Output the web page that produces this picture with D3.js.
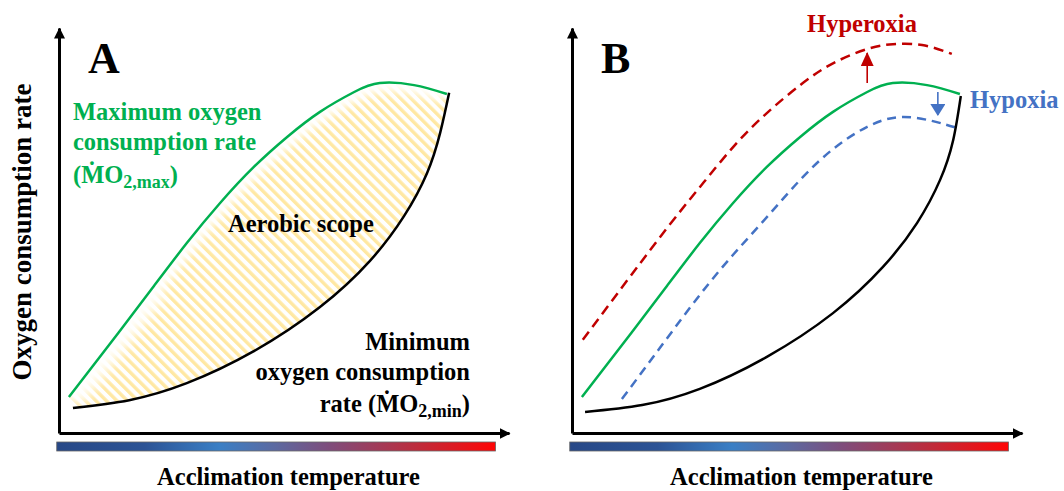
<!DOCTYPE html>
<html>
<head>
<meta charset="utf-8">
<script src="https://cdn.jsdelivr.net/npm/d3@7"></script>
<style>
body { margin: 0; background: #fff; }
text { font-family: "Liberation Serif", "Times New Roman", serif; font-weight: bold; }
</style>
</head>
<body>
<svg id="canvas" width="1064" height="491"></svg>
<script>
// acclimation temperature (0-100) vs oxygen consumption rate (0-100)
var maxTemp = [2.2, 13.3, 21.1, 28.4, 35.8, 43.3, 50.7, 58.0, 65.6, 71.3, 78.9, 86.2];
var maxRate = [8.9, 24.9, 36.3, 46.9, 56.8, 65.7, 73.1, 79.3, 84.2, 86.4, 85.9, 83.7];
var minTempA = [3.1, 15.6, 28.4, 43.3, 58.0, 69.1, 76.7, 81.8, 84.7, 86.7];
var minRateA = [6.2, 8.1, 12.3, 20.2, 31.1, 42.5, 53.6, 64.2, 74.1, 84.0];
var minTempB = [2.9, 15.6, 28.4, 43.3, 58.0, 69.1, 76.7, 81.8, 84.7, 86.4];
var minRateB = [5.2, 6.9, 10.9, 18.8, 29.6, 41.0, 51.9, 62.5, 72.3, 83.2];
var hyperTemp = [2.4, 19.1, 28.4, 35.8, 43.3, 51.3, 58.2, 65.6, 71.3, 77.8, 84.4];
var hyperRate = [23.0, 47.7, 60.7, 70.6, 79.0, 86.4, 91.4, 94.8, 96.0, 95.8, 93.6];
var hypoTemp = [11.1, 20.0, 28.4, 35.8, 43.3, 50.7, 58.0, 65.6, 72.9, 80.2, 85.6];
var hypoRate = [8.4, 21.7, 34.1, 44.0, 53.3, 62.5, 70.1, 75.6, 78.0, 77.0, 75.3];
// shift arrows: [temperature, from rate, to rate]
var hyperShift = [65.6, 86.4, 93.8];
var hypoShift = [81.3, 84.2, 78.5];
var panels = ["A", "B"];
var xTitle = "Acclimation temperature";
var yTitle = "Oxygen consumption rate";

var svg = d3.select("#canvas");
var green = "#00b050", red = "#c00000", blue = "#4472c4";

function pts(xs, ys) { return xs.map(function(v, i) { return [v, ys[i]]; }); }

var defs = svg.append("defs");

var grad = defs.append("linearGradient").attr("id", "temp");
[[0, "#274887"], [0.2, "#2c5395"], [0.37, "#3a7fc5"], [0.5, "#5d69a0"], [0.62, "#7e4d7c"], [0.82, "#bd2c3c"], [1, "#ff0505"]]
  .forEach(function(s) { grad.append("stop").attr("offset", s[0]).attr("stop-color", s[1]); });

var hatch = defs.append("pattern").attr("id", "hatch")
  .attr("patternUnits", "userSpaceOnUse").attr("width", 7.4).attr("height", 7.4)
  .attr("patternTransform", "rotate(-45)");
hatch.append("rect").attr("width", 3.4).attr("height", 7.4).attr("fill", "#ffd966").attr("opacity", 0.6);

defs.append("filter").attr("id", "soft").append("feGaussianBlur").attr("stdDeviation", 0.7);
defs.append("filter").attr("id", "halo").attr("x", "-20%").attr("y", "-20%").attr("width", "140%").attr("height", "140%")
  .append("feGaussianBlur").attr("stdDeviation", 5);

function marker(id, color, len, wid) {
  defs.append("marker").attr("id", id)
    .attr("markerUnits", "userSpaceOnUse")
    .attr("viewBox", [0, -wid / 2, len, wid].join(" "))
    .attr("markerWidth", len).attr("markerHeight", wid)
    .attr("refX", len - 1).attr("refY", 0).attr("orient", "auto")
    .append("path").attr("d", "M0," + (-wid / 2) + "L" + len + ",0L0," + (wid / 2) + "Z").attr("fill", color);
}
marker("axisArrow", "#000", 11, 11);
marker("redArrow", red, 14, 13);
marker("blueArrow", blue, 12, 15);

var origins = [59, 572];

panels.forEach(function(p, k) {
  var g = svg.append("g").attr("transform", "translate(" + origins[k] + ",0)");
  var x = d3.scaleLinear().domain([0, 100]).range([0, 450]);
  var y = d3.scaleLinear().domain([0, 100]).range([433, 28]);
  var line = d3.line().x(function(d) { return x(d[0]); }).y(function(d) { return y(d[1]); })
    .curve(d3.curveNatural);

  var maxPts = pts(maxTemp, maxRate);
  var minPts = p === "A" ? pts(minTempA, minRateA) : pts(minTempB, minRateB);

  if (p === "A") {
    var area = line(maxPts) + line(minPts.slice().reverse()).replace(/^M/, "L") + "Z";
    defs.append("clipPath").attr("id", "scope").append("path").attr("d", area);
    var sc = g.append("g").attr("clip-path", "url(#scope)");
    sc.append("path").attr("d", area).attr("fill", "url(#hatch)").attr("filter", "url(#soft)");
    sc.append("path").attr("d", line(maxPts)).attr("fill", "none")
      .attr("stroke", "#fff").attr("stroke-width", 18).attr("filter", "url(#halo)");
    sc.append("path").attr("d", line(maxPts.slice(0, 3))).attr("fill", "none")
      .attr("stroke", "#fff").attr("stroke-width", 34).attr("opacity", 0.6).attr("filter", "url(#halo)");
  }

  // colour bar under the x axis
  g.append("rect").attr("x", x(-0.5)).attr("y", 442).attr("width", x(97) - x(-0.5)).attr("height", 9)
    .attr("fill", "url(#temp)").attr("stroke", "#666").attr("stroke-width", 0.8);

  // axes
  var ax = g.append("g").attr("transform", "translate(0,433)").call(d3.axisBottom(x).ticks(0).tickSizeOuter(0));
  var ay = g.append("g").call(d3.axisLeft(y).ticks(0).tickSizeOuter(0));
  [ax, ay].forEach(function(a) {
    a.select(".domain").attr("stroke", "#000").attr("stroke-width", 3)
      .attr("marker-end", "url(#axisArrow)");
  });

  if (p === "B") {
    g.append("path").attr("d", line(pts(hyperTemp, hyperRate))).attr("fill", "none")
      .attr("stroke", red).attr("stroke-width", 2.5).attr("stroke-dasharray", "10,6");
    g.append("path").attr("d", line(pts(hypoTemp, hypoRate))).attr("fill", "none")
      .attr("stroke", blue).attr("stroke-width", 2.5).attr("stroke-dasharray", "9,6");
    g.append("line").attr("x1", x(hyperShift[0])).attr("x2", x(hyperShift[0]))
      .attr("y1", y(hyperShift[1])).attr("y2", y(hyperShift[2]))
      .attr("stroke", red).attr("stroke-width", 1.6).attr("marker-end", "url(#redArrow)");
    g.append("line").attr("x1", x(hypoShift[0])).attr("x2", x(hypoShift[0]))
      .attr("y1", y(hypoShift[1])).attr("y2", y(hypoShift[2]))
      .attr("stroke", blue).attr("stroke-width", 1.6).attr("marker-end", "url(#blueArrow)");
  }

  g.append("path").attr("d", line(minPts)).attr("fill", "none").attr("stroke", "#000").attr("stroke-width", 2.5);
  g.append("path").attr("d", line(maxPts)).attr("fill", "none").attr("stroke", green).attr("stroke-width", 2.5);

  g.append("text").attr("x", 29).attr("y", 73).attr("font-size", "44px").text(p);
  g.append("text").attr("x", x(51)).attr("y", 485).attr("text-anchor", "middle")
    .attr("font-size", "24.5px").text(xTitle);
});

function mo2(t, sub) {
  t.append("tspan").text("(ṀO");
  t.append("tspan").attr("dy", 5).attr("font-size", "18px").text("2," + sub);
  t.append("tspan").attr("dy", -5).text(")");
}

svg.append("text").attr("transform", "translate(31,232) rotate(-90)").attr("text-anchor", "middle")
  .attr("font-size", "27px").text(yTitle);

var gl = svg.append("g").attr("fill", green).attr("font-size", "24.5px");
gl.append("text").attr("x", 73).attr("y", 120).text("Maximum oxygen");
gl.append("text").attr("x", 73).attr("y", 150).text("consumption rate");
mo2(gl.append("text").attr("x", 73).attr("y", 183), "max");

svg.append("text").attr("x", 228).attr("y", 232).attr("font-size", "24.5px").text("Aerobic scope");

var ml = svg.append("g").attr("font-size", "24.5px").attr("text-anchor", "end");
ml.append("text").attr("x", 470).attr("y", 350).text("Minimum");
ml.append("text").attr("x", 470).attr("y", 380).text("oxygen consumption");
var mt = ml.append("text").attr("x", 470).attr("y", 412);
mt.append("tspan").text("rate ");
mo2(mt, "min");

svg.append("text").attr("x", 862).attr("y", 32).attr("text-anchor", "middle").attr("fill", red)
  .attr("font-size", "24.5px").text("Hyperoxia");
svg.append("text").attr("x", 970).attr("y", 108).attr("fill", blue)
  .attr("font-size", "24.5px").text("Hypoxia");
</script>
</body>
</html>
